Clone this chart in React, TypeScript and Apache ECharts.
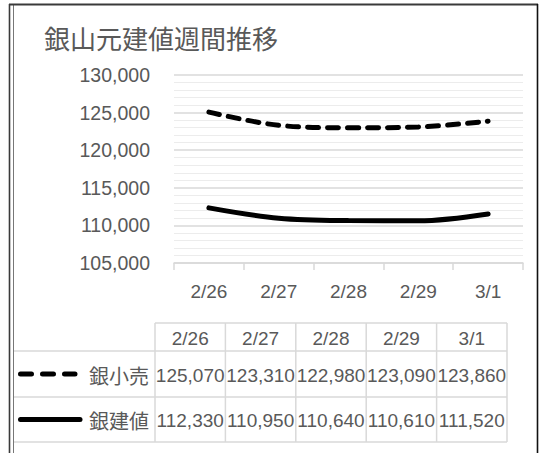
import React, { useEffect, useRef } from "react";
import * as echarts from "echarts";

const titleText = "銀山元建値週間推移";
const categories = ["2/26", "2/27", "2/28", "2/29", "3/1"];
const seriesNames = ["銀小売", "銀建値"];
const retailValues = [125070, 123310, 122980, 123090, 123860];
const baseValues = [112330, 110950, 110640, 110610, 111520];
const yMin = 105000;
const yMax = 130000;
const yInterval = 5000;

const FONT = "'Liberation Sans', Arial, 'Noto Sans CJK JP', sans-serif";
const TEXT_COLOR = "#595959";
const GRID_COLOR = "#d9d9d9";

const fmt = (v: number) => v.toLocaleString("en-US");

export default function App() {
  const ref = useRef<HTMLDivElement>(null);
  useEffect(() => {
    if (!ref.current) return;
    const chart = echarts.init(ref.current, null, { renderer: "svg" });

    // table geometry
    const colLeft = 155;
    const colRight = 507;
    const colW = (colRight - colLeft) / categories.length;
    const rowLines = [323, 351, 397, 442];
    const legendLeft = 14;
    const allSeries = [retailValues, baseValues];

    const graphics: any[] = [];
    // outer frame
    const frameStyle = { stroke: "#3a3a3a", lineWidth: 1.6 };
    graphics.push({ type: "line", shape: { x1: 9.5, y1: 4, x2: 9.5, y2: 453 }, style: frameStyle, silent: true });
    graphics.push({ type: "line", shape: { x1: 13.5, y1: 5, x2: 13.5, y2: 453 }, style: { stroke: "#777", lineWidth: 1 }, silent: true });
    graphics.push({ type: "line", shape: { x1: 9, y1: 4.5, x2: 538, y2: 4.5 }, style: { stroke: "#3a3a3a", lineWidth: 2 }, silent: true });
    graphics.push({ type: "line", shape: { x1: 537.5, y1: 4, x2: 537.5, y2: 453 }, style: { stroke: "#111", lineWidth: 1.6 }, silent: true });

    const tblStroke = { stroke: GRID_COLOR, lineWidth: 1.5 };
    rowLines.forEach((y, i) => {
      graphics.push({
        type: "line",
        shape: { x1: i === 0 ? colLeft : legendLeft, y1: y, x2: colRight, y2: y },
        style: tblStroke,
        silent: true,
      });
    });
    for (let i = 0; i <= categories.length; i++) {
      const x = colLeft + i * colW;
      graphics.push({
        type: "line",
        shape: { x1: x, y1: rowLines[0], x2: x, y2: rowLines[rowLines.length - 1] },
        style: tblStroke,
        silent: true,
      });
    }
    categories.forEach((c, i) => {
      graphics.push({
        type: "text",
        x: colLeft + (i + 0.5) * colW,
        y: (rowLines[0] + rowLines[1]) / 2 + 1,
        style: { text: c, fill: TEXT_COLOR, font: `19px ${FONT}`, textAlign: "center", textVerticalAlign: "middle" },
        silent: true,
      });
    });
    allSeries.forEach((vals, r) => {
      const yc = (rowLines[r + 1] + rowLines[r + 2]) / 2 + 1;
      vals.forEach((v, i) => {
        graphics.push({
          type: "text",
          x: colLeft + (i + 0.5) * colW,
          y: yc,
          style: { text: fmt(v), fill: TEXT_COLOR, font: `19px ${FONT}`, textAlign: "center", textVerticalAlign: "middle" },
          silent: true,
        });
      });
      graphics.push({
        type: "text",
        x: 149,
        y: yc,
        style: { text: seriesNames[r], fill: TEXT_COLOR, font: `20px 'Noto Sans CJK JP', sans-serif`, textAlign: "right", textVerticalAlign: "middle" },
        silent: true,
      });
      graphics.push({
        type: "line",
        shape: { x1: 20.5, y1: yc - 1, x2: r === 0 ? 75 : 80, y2: yc - 1 },
        style: {
          stroke: "#000",
          lineWidth: 5,
          lineCap: "round",
          lineDash: r === 0 ? [11, 11] : null,
        },
        silent: true,
      });
    });

    chart.setOption({
      animation: false,
      backgroundColor: "#ffffff",
      title: {
        text: titleText,
        left: 44,
        top: 24,
        padding: 0,
        textStyle: { fontSize: 26, fontWeight: "normal", color: TEXT_COLOR, fontFamily: "'Noto Sans CJK JP', sans-serif" },
      },
      grid: { left: 174, right: 17, top: 75, bottom: 190, containLabel: false },
      xAxis: {
        type: "category",
        data: categories,
        boundaryGap: true,
        axisLine: { show: true, lineStyle: { color: GRID_COLOR, width: 1.5 } },
        axisTick: { show: true, length: 7, lineStyle: { color: GRID_COLOR, width: 1.5 } },
        axisLabel: { color: TEXT_COLOR, fontSize: 19, fontFamily: FONT, margin: 19 },
        splitLine: { show: false },
      },
      yAxis: {
        type: "value",
        min: yMin,
        max: yMax,
        interval: yInterval,
        axisLine: { show: false },
        axisTick: { show: false },
        axisLabel: { color: TEXT_COLOR, fontSize: 19.5, fontFamily: FONT, margin: 24, formatter: (v: number) => fmt(v) },
        splitLine: { show: true, lineStyle: { color: GRID_COLOR, width: 1.5 } },
        minorTick: { show: false, splitNumber: 5 },
        minorSplitLine: { show: true, lineStyle: { color: "#ececec", width: 1.2 } },
      },
      series: [
        {
          name: seriesNames[0],
          type: "line",
          data: retailValues,
          smooth: 0.35,
          symbol: "none",
          lineStyle: { color: "#000", width: 5, type: [11, 9], cap: "round" },
        },
        {
          name: seriesNames[1],
          type: "line",
          data: baseValues,
          smooth: 0.35,
          symbol: "none",
          lineStyle: { color: "#000", width: 5, cap: "round" },
        },
      ],
      graphic: graphics,
    });
    return () => chart.dispose();
  }, []);
  return <div ref={ref} style={{ position: "fixed", left: 0, top: 0, width: 540, height: 453 }} />;
}
